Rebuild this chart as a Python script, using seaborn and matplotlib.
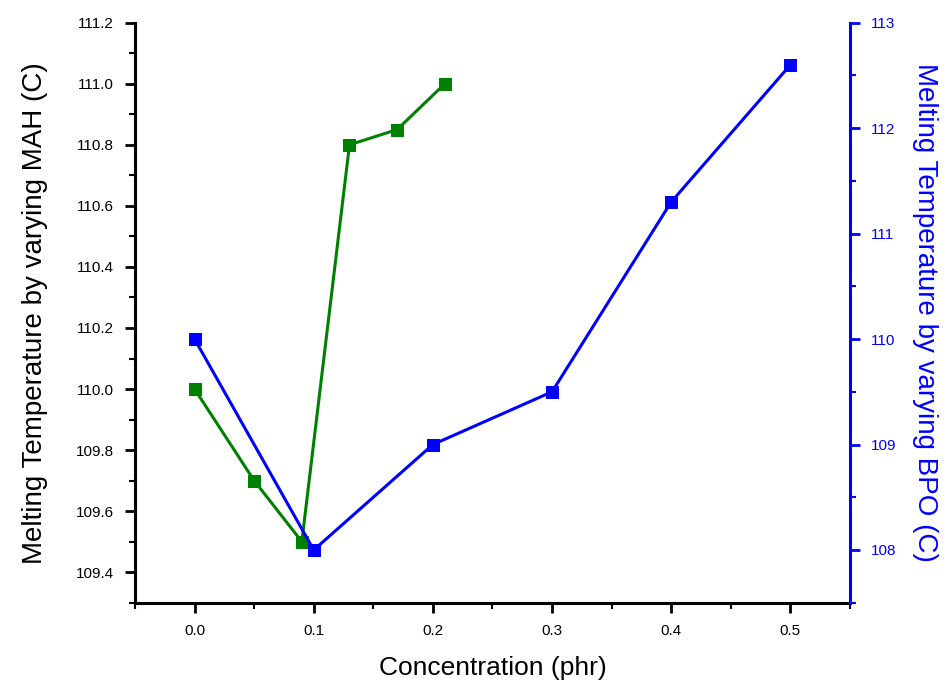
import numpy as np
import pandas as pd
import matplotlib
matplotlib.use("Agg")
import matplotlib.pyplot as plt
import seaborn as sns
from matplotlib.ticker import MultipleLocator

# values
mah_conc = [0.0, 0.05, 0.09, 0.13, 0.17, 0.21]
mah_temp = [110.0, 109.7, 109.5, 110.8, 110.85, 111.0]
bpo_conc = [0.0, 0.1, 0.2, 0.3, 0.4, 0.5]
bpo_temp = [110.0, 108.0, 109.0, 109.5, 111.3, 112.6]
x_ticks = [0.0, 0.1, 0.2, 0.3, 0.4, 0.5]

sns.set_style("ticks")
plt.rcParams['font.family'] = ['Liberation Sans', 'DejaVu Sans']

df_mah = pd.DataFrame({"conc": mah_conc, "temp": mah_temp})
df_bpo = pd.DataFrame({"conc": bpo_conc, "temp": bpo_temp})

fig = plt.figure(figsize=(9.52, 6.86), dpi=100)
ax = fig.add_axes([0.1418, 0.1214, 0.751, 0.8455])
ax2 = ax.twinx()

green = "#008000"
blue = "#0000ff"

sns.lineplot(data=df_mah, x="conc", y="temp", ax=ax, color=green, marker="s",
             markersize=8, markeredgecolor=green, linewidth=2.2, estimator=None)
sns.lineplot(data=df_bpo, x="conc", y="temp", ax=ax2, color=blue, marker="s",
             markersize=8, markeredgecolor=blue, linewidth=2.2, estimator=None)

ax.set_xlim(-0.05, 0.55)
ax.set_ylim(109.3, 111.2)
ax2.set_ylim(107.5, 113.0)

ax.set_xticks(x_ticks)
ax.set_xticklabels([f"{t:.1f}" for t in x_ticks])
ax.xaxis.set_minor_locator(MultipleLocator(0.05))
ax.yaxis.set_minor_locator(MultipleLocator(0.1))
ax2.yaxis.set_major_locator(MultipleLocator(1))
ax2.yaxis.set_minor_locator(MultipleLocator(0.5))
yt = np.arange(109.4, 111.21, 0.2)
ax.set_yticks(yt)
ax.set_yticklabels([f"{v:.1f}" for v in yt])

for a in (ax, ax2):
    a.spines["top"].set_visible(False)
ax.spines["right"].set_visible(False)
ax2.spines["left"].set_visible(False)
ax2.spines["bottom"].set_visible(False)
ax.spines["left"].set_linewidth(2.2)
ax.spines["bottom"].set_linewidth(2.2)
ax.spines["left"].set_color("black")
ax.spines["bottom"].set_color("black")
ax2.spines["right"].set_linewidth(2.2)
ax2.spines["right"].set_color(blue)

ax.tick_params(axis="both", which="major", direction="out", length=7, width=2,
               labelsize=11, colors="black", pad=8)
ax.tick_params(axis="both", which="minor", direction="out", length=4, width=1.5, colors="black")
ax2.tick_params(axis="y", which="major", direction="out", length=7, width=2,
                labelsize=11, colors=blue, pad=8)
ax2.tick_params(axis="y", which="minor", direction="out", length=4, width=1.5, colors=blue)

ax.set_xlabel("Concentration (phr)", fontsize=19, labelpad=13, color="black")
ax.set_ylabel("Melting Temperature by varying MAH (C)", fontsize=20, labelpad=20, color="black")
ax2.set_ylabel("Melting Temperature by varying BPO (C)", fontsize=20, color=blue,
               rotation=270, labelpad=30)

fig.savefig("out.png", dpi=100)
